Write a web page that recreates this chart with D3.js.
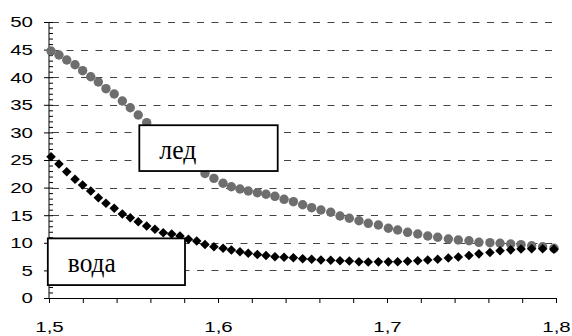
<!DOCTYPE html>
<html>
<head>
<meta charset="utf-8">
<script src="https://cdn.jsdelivr.net/npm/d3@7"></script>
<style>
    body { margin: 0; background: #fff; }
    svg { display: block; }
</style>
</head>
<body>
<div id="chart"></div>
<script>
// x values of the points (same for both series)
const xValues = [1.5012, 1.5059, 1.5105, 1.5154, 1.5199, 1.5247, 1.5292, 1.5337, 1.5386, 1.5434,
    1.5481, 1.5528, 1.5578, 1.5627, 1.5676, 1.5726, 1.5775, 1.5825, 1.5874, 1.5923,
    1.5976, 1.6030, 1.6079, 1.6130, 1.6179, 1.6233, 1.6284, 1.6337, 1.6391, 1.6446,
    1.6501, 1.6554, 1.6609, 1.6667, 1.6722, 1.6777, 1.6834, 1.6889, 1.6949, 1.7008,
    1.7063, 1.7122, 1.7182, 1.7241, 1.7300, 1.7363, 1.7422, 1.7485, 1.7544, 1.7609,
    1.7669, 1.7732, 1.7793, 1.7856, 1.7921, 1.7988];

// лед (grey circles)
const iceValues = [44.75, 44.02, 43.12, 42.26, 41.18, 40.09, 39.13, 37.92, 36.96, 35.69,
    34.47, 33.15, 31.76, 30.43, 29.08, 27.72, 26.45, 25.27, 23.9, 22.55,
    21.68, 20.78, 20.16, 19.75, 19.38, 19.08, 18.79, 18.42, 17.88, 17.45,
    16.90, 16.36, 15.94, 15.53, 14.86, 14.44, 14.00, 13.53, 13.22, 12.63,
    12.32, 11.90, 11.59, 11.23, 11.00, 10.69, 10.51, 10.38, 10.09, 10.02,
    9.91, 9.78, 9.66, 9.47, 9.29, 9.00];

// вода (black diamonds)
const waterValues = [25.60, 24.28, 22.88, 21.50, 20.47, 19.38, 18.17, 17.16, 16.25, 15.22,
    14.55, 13.82, 13.04, 12.45, 11.83, 11.59, 11.23, 10.63, 10.33, 9.69,
    9.29, 9.00, 8.70, 8.39, 8.10, 7.88, 7.70, 7.48, 7.37, 7.30,
    7.12, 7.01, 6.88, 6.83, 6.76, 6.70, 6.58, 6.52, 6.55, 6.55,
    6.58, 6.65, 6.75, 6.88, 7.02, 7.25, 7.42, 7.70, 8.00, 8.25,
    8.57, 8.72, 8.88, 8.92, 8.92, 8.85];

const yTicks = [0, 5, 10, 15, 20, 25, 30, 35, 40, 45, 50];
const xTicks = [1.5, 1.6, 1.7, 1.8];
const xTickLabels = ['1,5', '1,6', '1,7', '1,8'];
const labelTexts = ['лед', 'вода'];

const width = 572, height = 336;
const svg = d3.select('#chart').append('svg')
    .attr('width', width)
    .attr('height', height);

const x = d3.scaleLinear().domain([1.5, 1.8]).range([49, 556]);
const y = d3.scaleLinear().domain([0, 50]).range([298, 22]);

// the tick font in the picture is drawn wider than normal
function stretchText(sel) {
    sel.each(function() {
        const t = d3.select(this);
        const tx = +t.attr('x') || 0;
        t.attr('x', 0)
            .attr('transform', `translate(${tx},0) scale(1.32,1)`)
            .attr('font-family', 'Liberation Sans, Arial, sans-serif')
            .attr('font-size', 15.5)
            .attr('fill', '#000');
    });
}

// dashed gridlines
svg.append('g')
    .selectAll('line')
    .data(yTicks.filter(d => d > 0))
    .join('line')
    .attr('x1', x(1.5) + 3)
    .attr('x2', x(1.8) - 2)
    .attr('y1', d => Math.round(y(d)) + 0.5)
    .attr('y2', d => Math.round(y(d)) + 0.5)
    .attr('stroke', '#444')
    .attr('stroke-width', 1)
    .attr('stroke-dasharray', '7,7.5');

// y axis with minor ticks every 1
const yAxis = svg.append('g')
    .attr('transform', `translate(${x(1.5)},0)`);
yAxis.call(d3.axisRight(y).tickValues(d3.range(0, 51, 1)).tickSize(4).tickFormat(''))
    .call(g => g.select('.domain').remove());
yAxis.append('g')
    .call(d3.axisLeft(y).tickValues(yTicks).tickSize(5).tickPadding(11))
    .call(g => g.select('.domain').remove())
    .selectAll('text')
    .call(stretchText);
yAxis.append('line')
    .attr('y1', y(0))
    .attr('y2', y(50))
    .attr('stroke', '#000');

// x axis with ticks every 0.02
const xAxis = svg.append('g')
    .attr('transform', `translate(0,${y(0)})`);
xAxis.call(d3.axisBottom(x).tickValues(d3.range(0, 16).map(i => 1.5 + i * 0.02)).tickSize(5).tickFormat(''));
xAxis.append('g')
    .call(d3.axisBottom(x).tickValues(xTicks).tickSize(0).tickPadding(23)
        .tickFormat((d, i) => xTickLabels[i]))
    .call(g => g.select('.domain').remove())
    .selectAll('text')
    .call(stretchText);
svg.selectAll('.domain').attr('stroke', '#000');
svg.selectAll('.tick line').attr('stroke', '#000');

// ice series: grey circles
svg.append('g')
    .selectAll('circle')
    .data(iceValues)
    .join('circle')
    .attr('cx', (d, i) => x(xValues[i]))
    .attr('cy', d => y(d))
    .attr('r', 4.7)
    .attr('fill', '#6e6e6e');

// water series: black diamonds
const diamond = d3.symbol().type(d3.symbolSquare).size(46);
svg.append('g')
    .selectAll('path')
    .data(waterValues)
    .join('path')
    .attr('d', diamond)
    .attr('transform', (d, i) => `translate(${x(xValues[i])},${y(d)}) rotate(45)`)
    .attr('fill', '#000');

// text boxes over the plot (corners in data units)
const boxLayout = [
    { x0: 1.55345, y0: 31.3, x1: 1.63533, y1: 23.0, textWidth: 37 },
    { x0: 1.4993, y0: 10.8, x1: 1.58047, y1: 2.34, textWidth: 48 }
];
const boxes = svg.append('g')
    .selectAll('g')
    .data(labelTexts)
    .join('g');
boxes.append('rect')
    .attr('x', (d, i) => x(boxLayout[i].x0))
    .attr('y', (d, i) => y(boxLayout[i].y0))
    .attr('width', (d, i) => x(boxLayout[i].x1) - x(boxLayout[i].x0))
    .attr('height', (d, i) => y(boxLayout[i].y1) - y(boxLayout[i].y0))
    .attr('fill', '#fff')
    .attr('stroke', '#000')
    .attr('stroke-width', 1.8);
boxes.append('text')
    .attr('x', (d, i) => x(boxLayout[i].x0) + 20)
    .attr('y', (d, i) => y(boxLayout[i].y0) + 33.8)
    .attr('font-family', 'Liberation Serif, Times New Roman, serif')
    .attr('font-size', 28)
    .attr('textLength', (d, i) => boxLayout[i].textWidth)
    .attr('lengthAdjust', 'spacingAndGlyphs')
    .attr('fill', '#000')
    .text(d => d);
</script>
</body>
</html>
